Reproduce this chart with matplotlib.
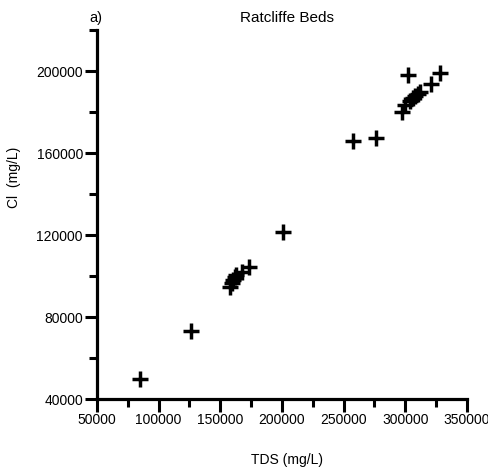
import numpy as np
import matplotlib.pyplot as plt
from matplotlib.ticker import MultipleLocator

plt.rcParams['font.family'] = ['Liberation Sans', 'DejaVu Sans']

# TDS i Cl vrijednosti (mg/L), procijenjene sa grafika
tds = [85000, 126000, 157800, 159200, 160500, 161800, 163000, 167300, 173500,
       201000, 257500, 276000, 297000, 300000, 302000, 304000, 306000,
       308000, 310000, 312000, 321000, 328000]
cl = [50000, 73000, 94800, 96400, 98000, 99700, 100500, 102100, 104500,
      121500, 166000, 167500, 180000, 183500, 198000, 185500, 187000,
      188000, 189000, 190000, 193500, 199300]

fig = plt.figure(figsize=(4.89, 4.70), dpi=100)
ax = fig.add_axes([0.198, 0.151, 0.757, 0.785])

ax.plot(tds, cl, linestyle='none', marker='+', color='black',
        markersize=12, markeredgewidth=2.5)

ax.set_xlim(50000, 350000)
ax.set_ylim(40000, 220000)
ax.xaxis.set_major_locator(MultipleLocator(50000))
ax.xaxis.set_minor_locator(MultipleLocator(25000))
ax.yaxis.set_major_locator(MultipleLocator(40000))
ax.yaxis.set_minor_locator(MultipleLocator(20000))
ax.set_yticks([40000, 80000, 120000, 160000, 200000])

for s in ['top', 'right']:
    ax.spines[s].set_visible(False)
for s in ['left', 'bottom']:
    ax.spines[s].set_linewidth(2.3)

ax.tick_params(which='major', length=9, width=2.2, direction='out',
               labelsize=10, pad=1)
ax.tick_params(which='minor', length=5.5, width=2.2, direction='out')

ax.set_xlabel('TDS (mg/L)', fontsize=10)
ax.set_ylabel('Cl  (mg/L)', fontsize=10)
ax.xaxis.set_label_coords(0.514, -0.145)
ax.yaxis.set_label_coords(-0.205, 0.6)

fig.text(0.587, 0.962, 'Ratcliffe Beds', ha='center', va='center', fontsize=11)
fig.text(0.196, 0.962, 'a)', ha='center', va='center', fontsize=10.5)

fig.savefig('out.png', dpi=100)
